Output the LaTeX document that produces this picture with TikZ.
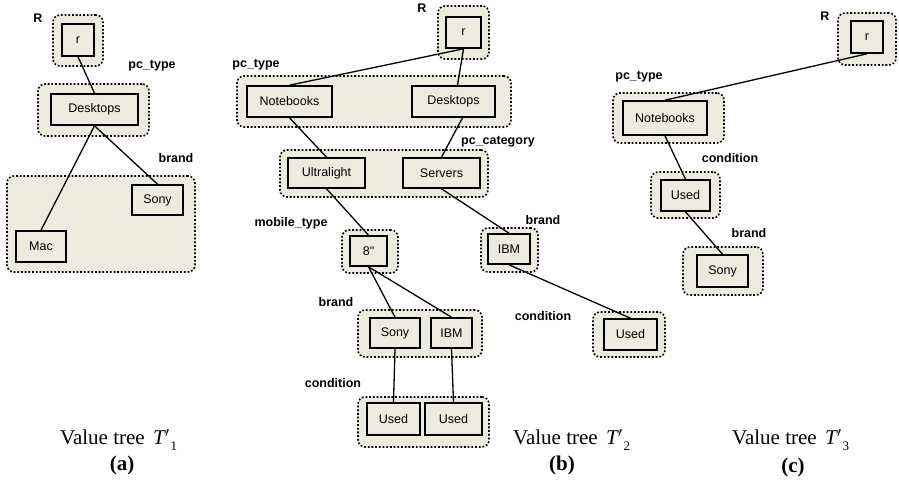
\documentclass[tikz,border=0pt]{standalone}
\usepackage{fontspec}
\setmainfont{Liberation Serif}
\newfontfamily\boxfont{Liberation Sans}
\definecolor{bg}{RGB}{236,235,222}
\tikzset{
  boxs/.style={draw=black, fill=bg, line width=1.6pt, inner sep=0pt, font=\boxfont\fontsize{12.5}{14}\selectfont},
  grps/.style={draw=black, fill=bg, line width=1.6pt, dash pattern=on 1.8pt off 1.9pt, rounded corners=7pt, inner sep=0pt},
  lbl/.style={font=\boxfont\bfseries\fontsize{12.5}{14}\selectfont, inner sep=0pt},
  conn/.style={line width=1.3pt, black},
  captxt/.style={font=\fontsize{21}{24}\selectfont, inner sep=0pt},
  capltxt/.style={font=\bfseries\fontsize{21}{24}\selectfont, inner sep=0pt}
}
\newcommand\bx[6]{\node[boxs, minimum width={#4-#2}, minimum height={#5-#3}] (#1) at ({(#2+#4)/2},{(#3+#5)/2}) {#6};}
\newcommand\gp[5]{\node[grps, minimum width={#4-#2}, minimum height={#5-#3}] (#1) at ({(#2+#4)/2},{(#3+#5)/2}) {};}
\newcommand\vtree[1]{Value tree\hspace{0.4em}\textit{T}\kern-1pt$'$\kern1pt\raisebox{-6pt}{\fontsize{13}{13}\selectfont #1}}
\begin{document}
\begin{tikzpicture}[x=1pt,y=-1pt]
\useasboundingbox (0,0) rectangle (899,484);
% ---------- (a) ----------
\gp{gRa}{53}{15}{103}{66}
\gp{gDa}{38}{84}{149}{136}
\gp{gBa}{7}{176}{195}{272}
\bx{ra}{62}{24}{94}{56}{r}
\bx{Da}{51}{94}{138}{125}{Desktops}
\bx{Sa}{132}{185}{183}{215}{Sony}
\bx{Ma}{16}{231}{66}{262}{Mac}
\node[lbl] (lRa) at (38,18) {R};
\node[lbl] (lTa) at (152,66) {pc\_type};
\node[lbl] (lBa) at (176,158) {brand};
\draw[conn] (ra.south) -- (Da.north);
\draw[conn] (Da.south) -- (Ma.north);
\draw[conn] (Da.south) -- (Sa.north);
% ---------- (b) ----------
\gp{gRb}{438}{6}{489}{59}
\gp{gTb}{237}{76}{511}{127}
\gp{gCb}{280}{150}{488}{197}
\gp{g8b}{342}{230}{398}{273}
\gp{gIb}{481}{228}{538}{272}
\gp{gSIb}{358}{310}{482}{357}
\gp{gUb}{593}{312}{665}{357}
\gp{gUUb}{358}{397}{489}{447}
\bx{rb}{446}{17}{481}{48}{r}
\bx{Nb}{247}{86}{332}{117}{Notebooks}
\bx{Db}{412}{86}{495}{117}{Desktops}
\bx{Ulb}{288}{158}{365}{188}{Ultralight}
\bx{Svb}{403}{158}{480}{188}{Servers}
\bx{Eb}{350}{236}{387}{266}{8"}
\bx{Ib}{488}{234}{530}{264}{IBM}
\bx{Sb}{370}{318}{420}{348}{Sony}
\bx{Ib2}{431}{318}{472}{348}{IBM}
\bx{URb}{604}{319}{657}{350}{Used}
\bx{U1b}{367}{403}{420}{435}{Used}
\bx{U2b}{425}{403}{482}{435}{Used}
\node[lbl] (lRb) at (422,8) {R};
\node[lbl] (lTb) at (256,65) {pc\_type};
\node[lbl] (lCb) at (498,142) {pc\_category};
\node[lbl] (lMb) at (291,223) {mobile\_type};
\node[lbl] (lBb) at (543,220) {brand};
\node[lbl] (lB2b) at (336,302) {brand};
\node[lbl] (lKb) at (543,316) {condition};
\node[lbl] (lK2b) at (333,383) {condition};
\draw[conn] (rb.south) -- (Nb.north);
\draw[conn] (rb.south) -- ([xshift=4pt]Db.north);
\draw[conn] (Nb.south) -- (Ulb.north);
\draw[conn] ([xshift=9pt]Db.south) -- (Svb.north);
\draw[conn] (Ulb.south) -- (Eb.north);
\draw[conn] (Svb.south) -- (Ib.north);
\draw[conn] (Eb.south) -- (Sb.north);
\draw[conn] (Eb.south) -- (Ib2.north);
\draw[conn] (Ib.south) -- (URb.north);
\draw[conn] (Sb.south) -- (U1b.north);
\draw[conn] (Ib2.south) -- (U2b.north);
% ---------- (c) ----------
\gp{gRc}{838}{13}{896}{65}
\gp{gNc}{613}{93}{724}{143}
\gp{gUc}{651}{172}{720}{218}
\gp{gSc}{683}{247}{763}{295}
\bx{rc}{851}{21}{883}{53}{r}
\bx{Nc}{623}{101}{707}{135}{Notebooks}
\bx{Uc}{661}{180}{710}{211}{Used}
\bx{Sc}{697}{255}{748}{287}{Sony}
\node[lbl] (lRc) at (825,16) {R};
\node[lbl] (lTc) at (639,77) {pc\_type};
\node[lbl] (lKc) at (730,158) {condition};
\node[lbl] (lBc) at (749,233) {brand};
\draw[conn] (rc.south) -- (Nc.north);
\draw[conn] (Nc.south) -- (Uc.north);
\draw[conn] (Uc.south) -- (Sc.north);
% ---------- captions ----------
\node[captxt, anchor=west] (ca) at (60,440) {\vtree{1}};
\node[capltxt] (cla) at (122,465) {(a)};
\node[captxt, anchor=west] (cb) at (513,440) {\vtree{2}};
\node[capltxt] (clb) at (562,465) {(b)};
\node[captxt, anchor=west] (cc) at (732,440) {\vtree{3}};
\node[capltxt] (clc) at (793,467) {(c)};
\end{tikzpicture}
\end{document}
